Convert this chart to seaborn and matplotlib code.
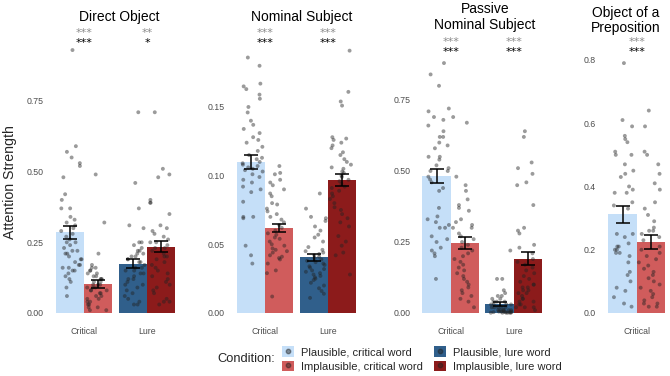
# Attention strength por tipo de dependência
import numpy as np
import pandas as pd
import matplotlib

matplotlib.use("Agg")
import matplotlib.pyplot as plt
import seaborn as sns
from matplotlib.patches import Patch
from matplotlib.lines import Line2D

# Painéis e categorias
paineis = ["Direct Object", "Nominal Subject", "Passive\nNominal Subject", "Object of a\nPreposition"]
posicoes = [["Critical", "Lure"], ["Critical", "Lure"], ["Critical", "Lure"], ["Critical"]]
niveis = ["Plausible", "Implausible"]
rotulos_legenda = [
    "Plausible, critical word",
    "Implausible, critical word",
    "Plausible, lure word",
    "Implausible, lure word",
]

# Médias e erro padrão (crit plaus, crit implaus, lure plaus, lure implaus)
do_medias = [0.285, 0.103, 0.175, 0.235]
do_se = [0.022, 0.013, 0.017, 0.018]
ns_medias = [0.110, 0.062, 0.0405, 0.0968]
ns_se = [0.0048, 0.0031, 0.0024, 0.0046]
pns_medias = [0.482, 0.245, 0.031, 0.191]
pns_se = [0.025, 0.021, 0.007, 0.023]
op_medias = [0.312, 0.225]
op_se = [0.026, 0.023]

# Estrelas de significância (cinza em cima, preto embaixo)
do_est_cinza = ["***", "**"]
do_est_preto = ["***", "*"]
ns_est_cinza = ["***", "***"]
ns_est_preto = ["***", "***"]
pns_est_cinza = ["***", "***"]
pns_est_preto = ["***", "***"]
op_est_cinza = ["***"]
op_est_preto = ["***"]

# Pontos individuais - Direct Object
do_crit_plaus = [0.93, 0.59, 0.57, 0.55, 0.53, 0.52, 0.48, 0.42, 0.40, 0.37, 0.37, 0.34, 0.33, 0.32, 0.31,
                 0.30, 0.29, 0.28, 0.27, 0.26, 0.25, 0.25, 0.24, 0.23, 0.22, 0.22, 0.21, 0.21, 0.20, 0.19,
                 0.19, 0.18, 0.17, 0.17, 0.16, 0.16, 0.15, 0.15, 0.14, 0.13, 0.12, 0.11, 0.09, 0.06]
do_crit_implaus = [0.49, 0.32, 0.21, 0.17, 0.16, 0.16, 0.15, 0.15, 0.14, 0.14, 0.13, 0.13, 0.12, 0.12,
                   0.12, 0.11, 0.11, 0.10, 0.10, 0.10, 0.09, 0.09, 0.09, 0.08, 0.08, 0.08, 0.07, 0.07,
                   0.06, 0.06, 0.05, 0.05, 0.04, 0.04, 0.03, 0.03, 0.02, 0.02, 0.01, 0.01]
do_lure_plaus = [0.71, 0.46, 0.37, 0.31, 0.30, 0.25, 0.25, 0.24, 0.23, 0.22, 0.22, 0.21, 0.21, 0.20,
                 0.20, 0.19, 0.19, 0.18, 0.18, 0.17, 0.16, 0.16, 0.15, 0.15, 0.14, 0.14, 0.13, 0.12,
                 0.12, 0.11, 0.10, 0.10, 0.09, 0.08, 0.07, 0.06, 0.05, 0.04, 0.03, 0.03]
do_lure_implaus = [0.71, 0.51, 0.49, 0.48, 0.40, 0.39, 0.39, 0.35, 0.31, 0.30, 0.29, 0.28, 0.27, 0.26,
                   0.25, 0.25, 0.24, 0.23, 0.23, 0.22, 0.21, 0.20, 0.20, 0.19, 0.18, 0.17, 0.16, 0.15,
                   0.14, 0.13, 0.12, 0.11, 0.10, 0.09, 0.08, 0.07, 0.05, 0.04, 0.04, 0.03]

# Pontos individuais - Nominal Subject
ns_crit_plaus = [0.186, 0.180, 0.167, 0.165, 0.163, 0.159, 0.156, 0.150, 0.146, 0.140, 0.137, 0.134,
                 0.131, 0.128, 0.126, 0.124, 0.121, 0.118, 0.115, 0.113, 0.112, 0.110, 0.109, 0.108,
                 0.107, 0.106, 0.105, 0.104, 0.103, 0.101, 0.099, 0.097, 0.095, 0.092, 0.090, 0.088,
                 0.081, 0.070, 0.070, 0.069, 0.049, 0.042, 0.036]
ns_crit_implaus = [0.107, 0.102, 0.101, 0.097, 0.095, 0.093, 0.090, 0.087, 0.085, 0.080, 0.079, 0.076,
                   0.074, 0.072, 0.070, 0.068, 0.066, 0.064, 0.062, 0.060, 0.058, 0.057, 0.055, 0.054,
                   0.052, 0.050, 0.049, 0.047, 0.046, 0.045, 0.044, 0.042, 0.041, 0.040, 0.039, 0.036,
                   0.031, 0.029, 0.012]
ns_lure_plaus = [0.087, 0.076, 0.070, 0.069, 0.067, 0.063, 0.060, 0.057, 0.055, 0.052, 0.048, 0.046,
                 0.045, 0.044, 0.043, 0.042, 0.041, 0.040, 0.039, 0.038, 0.037, 0.036, 0.035, 0.034,
                 0.033, 0.032, 0.031, 0.030, 0.029, 0.028, 0.027, 0.026, 0.025, 0.024, 0.022, 0.020,
                 0.018, 0.016, 0.014, 0.011]
ns_lure_implaus = [0.191, 0.161, 0.154, 0.151, 0.128, 0.127, 0.126, 0.124, 0.122, 0.120, 0.117, 0.115,
                   0.112, 0.110, 0.108, 0.106, 0.105, 0.103, 0.102, 0.100, 0.099, 0.097, 0.096, 0.094,
                   0.092, 0.091, 0.089, 0.087, 0.085, 0.083, 0.080, 0.077, 0.075, 0.072, 0.069, 0.066,
                   0.063, 0.056, 0.052, 0.049, 0.044, 0.042, 0.028]

# Pontos individuais - Passive Nominal Subject
pns_crit_plaus = [0.88, 0.84, 0.80, 0.72, 0.71, 0.69, 0.68, 0.66, 0.64, 0.62, 0.62, 0.60, 0.59, 0.58,
                  0.55, 0.55, 0.54, 0.52, 0.51, 0.50, 0.50, 0.48, 0.47, 0.46, 0.44, 0.43, 0.37, 0.34,
                  0.33, 0.32, 0.31, 0.30, 0.30, 0.27, 0.26, 0.25, 0.23, 0.22, 0.21, 0.20, 0.12]
pns_crit_implaus = [0.69, 0.67, 0.48, 0.45, 0.43, 0.40, 0.38, 0.37, 0.36, 0.33, 0.32, 0.31, 0.30, 0.30,
                    0.28, 0.27, 0.26, 0.25, 0.24, 0.23, 0.22, 0.21, 0.20, 0.19, 0.18, 0.17, 0.16, 0.15,
                    0.14, 0.13, 0.12, 0.11, 0.10, 0.09, 0.08, 0.07, 0.06, 0.05, 0.04, 0.02]
pns_lure_plaus = [0.22, 0.12, 0.12, 0.08, 0.07, 0.06, 0.06, 0.05, 0.05, 0.04, 0.04, 0.04, 0.03, 0.03,
                  0.03, 0.03, 0.02, 0.02, 0.02, 0.02, 0.02, 0.01, 0.01, 0.01, 0.01, 0.01, 0.01, 0.005,
                  0.005, 0.005, 0.005, 0.003, 0.003, 0.002, 0.002, 0.001, 0.001, 0.001, 0.001, 0.001]
pns_lure_implaus = [0.64, 0.62, 0.53, 0.51, 0.49, 0.46, 0.45, 0.38, 0.30, 0.29, 0.28, 0.24, 0.23, 0.21,
                    0.19, 0.18, 0.17, 0.16, 0.15, 0.14, 0.13, 0.12, 0.11, 0.10, 0.10, 0.09, 0.09, 0.08,
                    0.08, 0.07, 0.07, 0.06, 0.05, 0.05, 0.04, 0.04, 0.03, 0.03, 0.02, 0.02, 0.02, 0.01]

# Pontos individuais - Object of a Preposition
op_crit_plaus = [0.79, 0.61, 0.59, 0.56, 0.55, 0.54, 0.51, 0.50, 0.50, 0.47, 0.45, 0.44, 0.43, 0.40,
                 0.39, 0.38, 0.38, 0.35, 0.34, 0.33, 0.25, 0.25, 0.24, 0.22, 0.21, 0.21, 0.20, 0.20,
                 0.19, 0.19, 0.18, 0.16, 0.13, 0.12, 0.10, 0.08, 0.07, 0.05, 0.03, 0.02]
op_crit_implaus = [0.64, 0.59, 0.51, 0.50, 0.47, 0.44, 0.41, 0.39, 0.35, 0.33, 0.31, 0.29, 0.27, 0.26,
                   0.26, 0.25, 0.24, 0.23, 0.21, 0.20, 0.19, 0.18, 0.17, 0.16, 0.15, 0.14, 0.13, 0.12,
                   0.11, 0.10, 0.09, 0.08, 0.07, 0.06, 0.05, 0.04, 0.03, 0.03, 0.02, 0.02]

# Organizando por painel
medias = [do_medias, ns_medias, pns_medias, op_medias]
erros = [do_se, ns_se, pns_se, op_se]
est_cinza = [do_est_cinza, ns_est_cinza, pns_est_cinza, op_est_cinza]
est_preto = [do_est_preto, ns_est_preto, pns_est_preto, op_est_preto]
pontos = [
    [do_crit_plaus, do_crit_implaus, do_lure_plaus, do_lure_implaus],
    [ns_crit_plaus, ns_crit_implaus, ns_lure_plaus, ns_lure_implaus],
    [pns_crit_plaus, pns_crit_implaus, pns_lure_plaus, pns_lure_implaus],
    [op_crit_plaus, op_crit_implaus],
]

# Cores (posição, plausibilidade)
cores = {
    ("Critical", "Plausible"): "#c5dff8",
    ("Critical", "Implausible"): "#d05c5c",
    ("Lure", "Plausible"): "#305f8b",
    ("Lure", "Implausible"): "#8c1b1b",
}

# Layout (pixels da figura 670x376)
sns.set_theme(style="white")
plt.rcParams["font.family"] = ["Liberation Sans", "DejaVu Sans"]

fig = plt.figure(figsize=(6.7, 3.76), dpi=100)
W, H = 670.0, 376.0
base, topo = 313.0, 28.0
esquerdas = [46.2, 227.2, 413.0, 599.0]
larguras = [138.6, 138.6, 138.6, 71.0]
y_max = [1.008, 0.2075, 1.0035, 0.901]
y_ticks = [[0, 0.25, 0.5, 0.75], [0, 0.05, 0.10, 0.15], [0, 0.25, 0.5, 0.75], [0, 0.2, 0.4, 0.6, 0.8]]
y_fmt = ["{:.2f}", "{:.2f}", "{:.2f}", "{:.1f}"]
est_y = [(33, 43), (33, 43), (42, 52), (42, 52)]
titulo_x = [119.5, 302.0, 485.0, 626.0]
titulo_y = [17, 17, 17.3, 20.4]

np.random.seed(3)

for i in range(4):
    ax = fig.add_axes([esquerdas[i] / W, (H - base) / H, larguras[i] / W, (base - topo) / H])

    # Tabela resumo
    linhas = []
    for pos in posicoes[i]:
        for nv in niveis:
            linhas.append({"pos": pos, "plaus": nv})
    resumo = pd.DataFrame(linhas)
    resumo["media"] = medias[i]

    # Barras
    sns.barplot(
        data=resumo, x="pos", y="media", hue="plaus", order=posicoes[i], hue_order=niveis,
        width=0.9, errorbar=None, legend=False, saturation=1, ax=ax,
        palette=["#c5dff8", "#d05c5c"],
    )

    # Cores por barra e barras de erro
    cx_lista, med_lista, se_lista = [], [], []
    for p in ax.patches:
        cx = p.get_x() + p.get_width() / 2
        k = int(round(cx))
        h = 0 if cx < k else 1
        p.set_facecolor(cores[(posicoes[i][k], niveis[h])])
        p.set_edgecolor("none")
        cx_lista.append(cx)
        med_lista.append(medias[i][k * 2 + h])
        se_lista.append(erros[i][k * 2 + h])
    ax.errorbar(cx_lista, med_lista, yerr=se_lista, fmt="none", ecolor="black",
                elinewidth=1.1, capsize=4.7, capthick=1.1, zorder=5)

    # Pontos individuais
    reg = []
    j = 0
    for pos in posicoes[i]:
        for nv in niveis:
            for v in pontos[i][j]:
                reg.append({"pos": pos, "plaus": nv, "valor": v})
            j += 1
    df_pts = pd.DataFrame(reg)
    sns.stripplot(
        data=df_pts, x="pos", y="valor", hue="plaus", order=posicoes[i], hue_order=niveis,
        dodge=True, jitter=0.34, palette=["#222222", "#222222"], alpha=0.45, size=2.8,
        linewidth=0, legend=False, ax=ax, zorder=4, clip_on=False,
    )

    # Estrelas
    for k, pos in enumerate(posicoes[i]):
        ax.text(k, (base - est_y[i][0]) / (base - topo), est_cinza[i][k], ha="center", va="center",
                fontsize=8, color="#8c8c8c", transform=ax.get_xaxis_transform(),
                family="DejaVu Sans")
        ax.text(k, (base - est_y[i][1]) / (base - topo), est_preto[i][k], ha="center", va="center",
                fontsize=8, color="black", transform=ax.get_xaxis_transform(),
                family="DejaVu Sans")

    # Título do painel
    fig.text(titulo_x[i] / W, 1 - titulo_y[i] / H, paineis[i], ha="center", va="center",
             fontsize=10, color="black", linespacing=1.15)

    # Eixos
    ax.set_xlim(-0.6, larguras[i] / 63.0 - 0.6)
    ax.set_ylim(0, y_max[i])
    ax.set_yticks(y_ticks[i])
    ax.set_yticklabels([y_fmt[i].format(t) for t in y_ticks[i]])
    ax.tick_params(axis="y", length=0, pad=2, labelsize=6.3, labelcolor="#4d4d4d")
    ax.tick_params(axis="x", length=0, pad=10, labelsize=6.3, labelcolor="#4d4d4d")
    ax.set_xlabel("")
    ax.set_ylabel("")
    ax.grid(False)
    sns.despine(ax=ax, left=True, bottom=True)

# Rótulo do eixo y
fig.text(10 / W, 1 - 182 / H, "Attention Strength", rotation=90, ha="center", va="center", fontsize=10.2)

# Legenda
fig.text(217 / W, 1 - 359 / H, "Condition:", ha="left", va="center", fontsize=9.3)
chaves = [("Critical", "Plausible"), ("Critical", "Implausible"), ("Lure", "Plausible"), ("Lure", "Implausible")]
handles = [
    (Patch(facecolor=cores[c], edgecolor="none"),
     Line2D([], [], marker="o", linestyle="", color="#222222", alpha=0.45, markersize=3.2))
    for c in chaves
]
fig.legend(
    handles, rotulos_legenda, ncol=2, loc="center left", bbox_to_anchor=(282 / W, 1 - 359 / H),
    frameon=False, fontsize=8.0, handlelength=1.1, handleheight=1.1, handletextpad=0.6,
    columnspacing=1.0, labelspacing=0.3, borderpad=0, borderaxespad=0,
)

plt.savefig("out.png", dpi=100)
